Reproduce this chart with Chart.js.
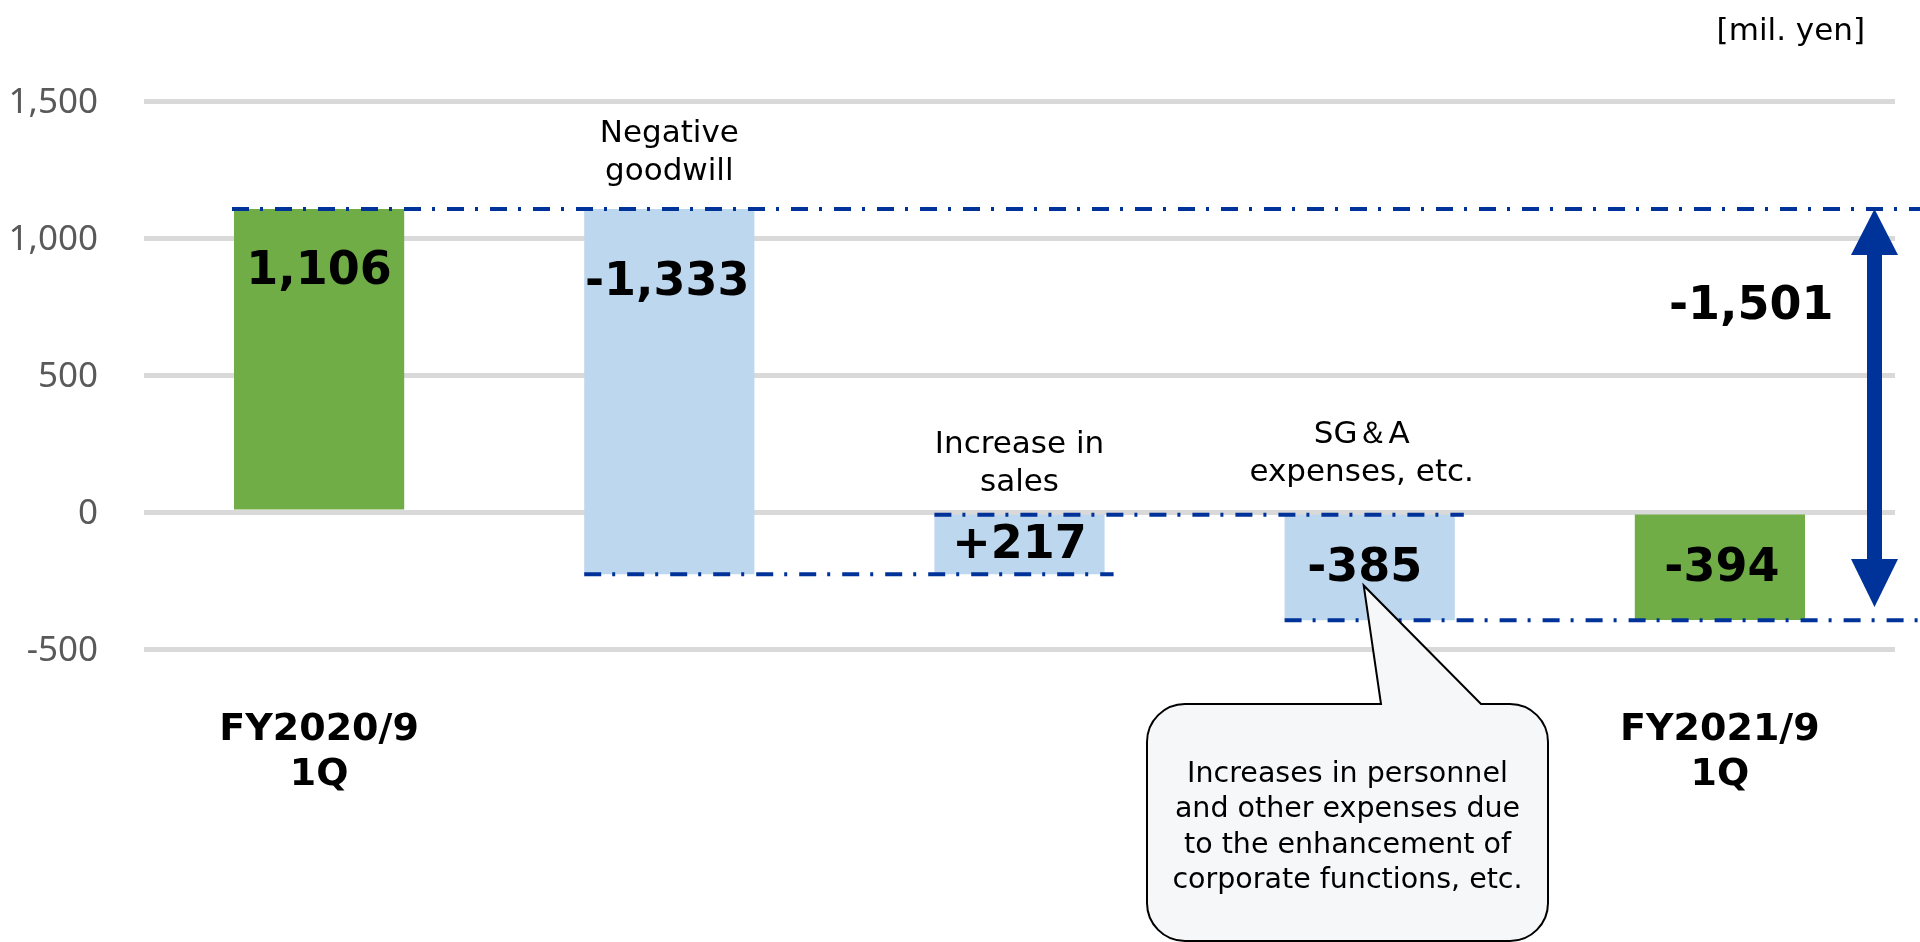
<!DOCTYPE html>
<html>
<head>
<meta charset="utf-8">
<title>Profit bridge FY2020/9 1Q to FY2021/9 1Q</title>
<script src="https://cdn.jsdelivr.net/npm/chart.js@4.4.1/dist/chart.umd.min.js"></script>
<style>
  html, body { margin: 0; padding: 0; background: #fff; }
  #wrap { width: 1920px; height: 942px; }
</style>
</head>
<body>
<div id="wrap"><canvas id="myChart" width="1920" height="942"></canvas></div>
<script>
// numbers (mil. yen)
const categories = ['FY2020/9 1Q', 'Negative goodwill', 'Increase in sales', 'SG&A expenses, etc.', 'FY2021/9 1Q'];
const tickLabels = [['FY2020/9', '1Q'], '', '', '', ['FY2021/9', '1Q']];
const topLabels = [[], ['Negative', 'goodwill'], ['Increase in', 'sales'], ['SG\uFF06A', 'expenses, etc.'], []];
const amounts = [1106, -1333, 217, -385, -394];
const isTotal = [true, false, false, false, true];
const totalChange = -1501;
const yMin = -500;
const yMax = 1500;
const yStep = 500;
const unitLabel = '[mil. yen]';
const calloutLines = ['Increases in personnel', 'and other expenses due', 'to the enhancement of', 'corporate functions, etc.'];

// colours
const green = '#70ad47';
const lightBlue = '#bdd7ee';
const ink = '#003399';

// build the floating bars (running total for the steps)
let running = 0;
const floats = amounts.map((a, i) => {
  if (isTotal[i]) {
    running = a;
    return [0, a];
  }
  const start = running;
  running += a;
  return [start, running];
});
const barColors = isTotal.map(t => t ? green : lightBlue);
const valueLabels = amounts.map((a, i) => {
  const s = a.toLocaleString('en-US');
  return (!isTotal[i] && a > 0) ? '+' + s : s;
});

// little per-bar layout tweaks
const valueLabelDrop = [75, 86, 0, 0, 0];
const valueLabelDx = [0, -2, 0, -5, 2];
const topLabelGap = [0, 29, 24, 34, 0];
const topLabelDx = [0, 0, 0, -8, 0];

const bridgePlugin = {
  id: 'bridge',
  afterDatasetsDraw(chart) {
    const ctx = chart.ctx;
    const bars = chart.getDatasetMeta(0).data;
    const y = chart.scales.y;
    const area = chart.chartArea;
    const W = chart.width;

    // dash-dot connectors between the bars
    ctx.save();
    ctx.strokeStyle = ink;
    ctx.lineWidth = 4;
    ctx.setLineDash([17, 11, 3, 12]);
    for (let i = 0; i < bars.length - 1; i++) {
      const level = floats[i][1];
      const py = y.getPixelForValue(level);
      const x0 = bars[i].x - bars[i].width / 2 - (i === 0 ? 2 : 0);
      const toEdge = i === 0 || i === bars.length - 2;
      const x1 = toEdge ? W : bars[i + 1].x + bars[i + 1].width / 2 + 9;
      ctx.beginPath();
      ctx.moveTo(x0, py);
      ctx.lineTo(x1, py);
      ctx.stroke();
    }
    ctx.restore();

    // values inside the bars
    ctx.save();
    ctx.fillStyle = '#000';
    ctx.textAlign = 'center';
    ctx.textBaseline = 'alphabetic';
    ctx.font = 'bold 46px "DejaVu Sans"';
    const baselines = [];
    bars.forEach((b, i) => {
      const top = Math.min(b.y, b.base);
      const bottom = Math.max(b.y, b.base);
      const bl = bottom - top > 200 ? top + valueLabelDrop[i] : (top + bottom) / 2 + 14;
      baselines.push(bl);
      ctx.fillText(valueLabels[i], b.x + valueLabelDx[i], bl);
    });

    // labels above the step bars
    ctx.font = '31px "DejaVu Sans"';
    bars.forEach((b, i) => {
      const lines = topLabels[i];
      if (!lines.length) return;
      const top = Math.min(b.y, b.base);
      lines.forEach((t, k) => {
        ctx.fillText(t, b.x + topLabelDx[i], top - topLabelGap[i] - (lines.length - 1 - k) * 38);
      });
    });
    ctx.restore();

    // double arrow for the total change
    const ax = area.right - 20.5;
    const yTop = y.getPixelForValue(floats[0][1]);
    const yBot = y.getPixelForValue(floats[floats.length - 1][1]) - 13;
    ctx.save();
    ctx.fillStyle = ink;
    ctx.fillRect(ax - 7.5, yTop + 40, 15, yBot - yTop - 80);
    ctx.beginPath();
    ctx.moveTo(ax, yTop);
    ctx.lineTo(ax + 23.5, yTop + 46);
    ctx.lineTo(ax - 23.5, yTop + 46);
    ctx.closePath();
    ctx.fill();
    ctx.beginPath();
    ctx.moveTo(ax, yBot);
    ctx.lineTo(ax + 23.5, yBot - 48);
    ctx.lineTo(ax - 23.5, yBot - 48);
    ctx.closePath();
    ctx.fill();
    ctx.fillStyle = '#000';
    ctx.font = 'bold 46px "DejaVu Sans"';
    ctx.textAlign = 'right';
    ctx.fillText(totalChange.toLocaleString('en-US'), ax - 41, yTop + 110);
    ctx.restore();

    // speech bubble pointing at the SG&A bar
    const bx = 1147, by = 704, bw = 401, bh = 237, r = 38;
    const tipX = bars[3].x - 6;
    const tipY = baselines[3] + 4;
    ctx.save();
    ctx.beginPath();
    ctx.moveTo(bx + r, by);
    ctx.lineTo(1381, by);
    ctx.lineTo(tipX, tipY);
    ctx.lineTo(1481, by);
    ctx.arcTo(bx + bw, by, bx + bw, by + bh, r);
    ctx.arcTo(bx + bw, by + bh, bx, by + bh, r);
    ctx.arcTo(bx, by + bh, bx, by, r);
    ctx.arcTo(bx, by, bx + r, by, r);
    ctx.closePath();
    ctx.fillStyle = '#f6f7f9';
    ctx.fill();
    ctx.lineWidth = 2;
    ctx.strokeStyle = '#000';
    ctx.stroke();
    ctx.fillStyle = '#000';
    ctx.textAlign = 'center';
    ctx.font = '28.5px "DejaVu Sans"';
    calloutLines.forEach((t, k) => ctx.fillText(t, bx + bw / 2, 782 + k * 35.3));
    ctx.restore();

    // unit
    ctx.save();
    ctx.fillStyle = '#000';
    ctx.font = '31px "DejaVu Sans"';
    ctx.textAlign = 'right';
    ctx.fillText(unitLabel, 1865, 40);
    ctx.restore();
  }
};

const ctx = document.getElementById('myChart').getContext('2d');
const myChart = new Chart(ctx, {
  type: 'bar',
  data: {
    labels: tickLabels,
    datasets: [{
      label: 'mil. yen',
      data: floats,
      backgroundColor: barColors,
      borderWidth: 0,
      barPercentage: 0.486,
      categoryPercentage: 1
    }]
  },
  options: {
    responsive: false,
    animation: false,
    layout: { padding: { top: 101, right: 25, bottom: 0, left: 0 } },
    plugins: {
      legend: { display: false },
      tooltip: { enabled: false }
    },
    scales: {
      x: {
        grid: { display: false, drawTicks: false },
        border: { display: false },
        ticks: {
          autoSkip: false,
          maxRotation: 0,
          padding: 59,
          color: '#000',
          font: { family: '"DejaVu Sans"', size: 38, weight: 'bold', lineHeight: 1.184 }
        },
        afterFit: (s) => { s.height = 942 - 649; }
      },
      y: {
        min: yMin,
        max: yMax,
        grid: { color: '#d9d9d9', lineWidth: 5, drawTicks: false },
        border: { display: false },
        ticks: {
          stepSize: yStep,
          padding: 46,
          labelOffset: 2,
          color: '#595959',
          font: { family: '"Noto Sans"', size: 35 }
        },
        afterFit: (s) => { s.width = 144; }
      }
    }
  },
  plugins: [bridgePlugin]
});
</script>
</body>
</html>
